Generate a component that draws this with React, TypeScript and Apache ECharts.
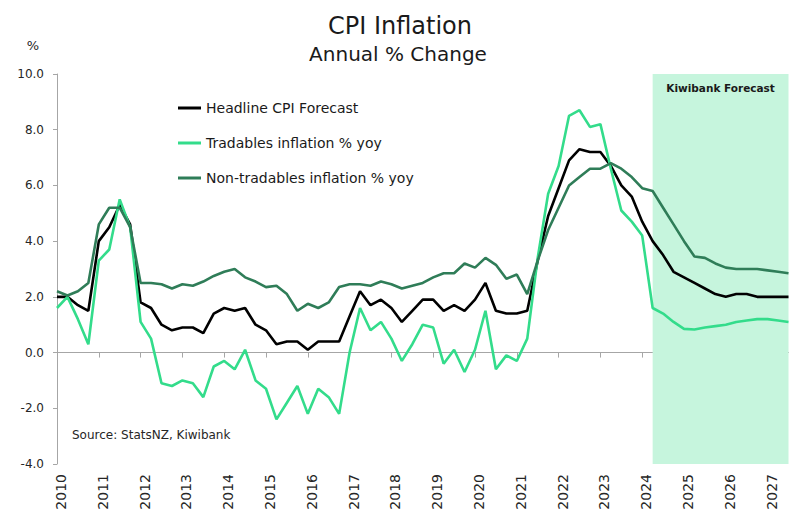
import React, { useEffect, useRef } from "react";
import * as echarts from "echarts";

// Quarterly categories, 2010 Q1 .. 2027 Q3 (71 points)
const startYear = 2010;
const quarters: string[] = [];
for (let i = 0; i < 71; i++) {
  quarters.push(`${startYear + Math.floor(i / 4)}Q${(i % 4) + 1}`);
}

const yearLabels = [
  "2010", "2011", "2012", "2013", "2014", "2015", "2016", "2017", "2018",
  "2019", "2020", "2021", "2022", "2023", "2024", "2025", "2026", "2027",
];

const headline = [
  2.0, 2.0, 1.7, 1.5, 4.0, 4.5, 5.3, 4.6, 1.8, 1.6, 1.0, 0.8, 0.9, 0.9, 0.7, 1.4,
  1.6, 1.5, 1.6, 1.0, 0.8, 0.3, 0.4, 0.4, 0.1, 0.4, 0.4, 0.4, 1.3, 2.2, 1.7, 1.9,
  1.6, 1.1, 1.5, 1.9, 1.9, 1.5, 1.7, 1.5, 1.9, 2.5, 1.5, 1.4, 1.4, 1.5, 3.3, 4.9,
  5.9, 6.9, 7.3, 7.2, 7.2, 6.7, 6.0, 5.6, 4.7, 4.0, 3.5, 2.9, 2.7, 2.5, 2.3, 2.1,
  2.0, 2.1, 2.1, 2.0, 2.0, 2.0, 2.0,
];

const tradables = [
  1.6, 2.0, 1.2, 0.3, 3.3, 3.7, 5.5, 4.5, 1.1, 0.5, -1.1, -1.2, -1.0, -1.1, -1.6, -0.5,
  -0.3, -0.6, 0.1, -1.0, -1.3, -2.4, -1.8, -1.2, -2.2, -1.3, -1.6, -2.2, 0.0, 1.6, 0.8, 1.1,
  0.5, -0.3, 0.3, 1.0, 0.9, -0.4, 0.1, -0.7, 0.1, 1.5, -0.6, -0.1, -0.3, 0.5, 3.4, 5.7,
  6.7, 8.5, 8.7, 8.1, 8.2, 6.6, 5.1, 4.7, 4.2, 1.6, 1.4, 1.1, 0.85, 0.83, 0.9, 0.95,
  1.0, 1.1, 1.15, 1.2, 1.2, 1.15, 1.1,
];

const nonTradables = [
  2.2, 2.05, 2.2, 2.5, 4.6, 5.2, 5.2, 4.5, 2.5, 2.5, 2.45, 2.3, 2.45, 2.4, 2.55, 2.75,
  2.9, 3.0, 2.7, 2.55, 2.35, 2.4, 2.1, 1.5, 1.75, 1.6, 1.8, 2.35, 2.45, 2.45, 2.4, 2.55,
  2.45, 2.3, 2.4, 2.5, 2.7, 2.85, 2.85, 3.2, 3.05, 3.4, 3.15, 2.65, 2.8, 2.1, 3.3, 4.4,
  5.2, 6.0, 6.3, 6.6, 6.6, 6.8, 6.6, 6.3, 5.9, 5.8, 5.2, 4.6, 4.0, 3.45, 3.4, 3.2,
  3.05, 3.0, 3.0, 3.0, 2.95, 2.9, 2.85,
];

const seriesNames = [
  "Headline CPI Forecast",
  "Tradables inflation % yoy",
  "Non-tradables inflation % yoy",
];
const colors = ["#000000", "#33DC8B", "#2F7D58"];
const forecastStart = "2024Q2";
const forecastEnd = "2027Q3";

const FONT = "DejaVu Sans";

export default function App() {
  const ref = useRef<HTMLDivElement>(null);

  useEffect(() => {
    if (!ref.current) return;
    const chart = echarts.init(ref.current, undefined, { renderer: "svg" });
    const mk = (name: string, data: number[], color: string, extra: any = {}) => ({
      name,
      type: "line",
      data,
      xAxisIndex: 0,
      yAxisIndex: 0,
      showSymbol: false,
      symbol: "none",
      color,
      lineStyle: { color, width: 2.6 },
      ...extra,
    });
    chart.setOption({
      animation: false,
      textStyle: { fontFamily: FONT },
      grid: { left: 57, right: 11.5, top: 74, bottom: 58, containLabel: false },
      legend: {
        orient: "vertical",
        left: 173,
        top: 93,
        itemWidth: 23,
        itemHeight: 3,
        itemGap: 15,
        icon: "rect",
        data: seriesNames,
        textStyle: { fontSize: 14, color: "#1a1a1a", lineHeight: 20, fontFamily: FONT },
      },
      xAxis: [
        {
          type: "category",
          data: quarters,
          boundaryGap: false,
          axisLine: { onZero: true, lineStyle: { color: "#A6A6A6", width: 1 } },
          axisTick: { show: true, interval: 3, length: 5, lineStyle: { color: "#A6A6A6" } },
          axisLabel: { show: false },
          splitLine: { show: false },
        },
        {
          type: "category",
          data: quarters,
          boundaryGap: false,
          position: "bottom",
          axisLine: { show: false, onZero: false },
          axisTick: { show: false },
          splitLine: { show: false },
          axisLabel: {
            show: true,
            interval: 3,
            rotate: 90,
            margin: 10,
            fontSize: 14,
            color: "#262626",
            fontFamily: FONT,
            verticalAlign: "top",
            lineHeight: 8,
            formatter: (_v: string, idx: number) =>
              idx % 4 === 0 ? yearLabels[idx / 4] ?? "" : "",
          },
        },
      ],
      yAxis: {
        type: "value",
        min: -4,
        max: 10,
        interval: 2,
        axisLine: { show: true, lineStyle: { color: "#A6A6A6", width: 1 } },
        axisTick: { show: true, inside: false, length: 4, lineStyle: { color: "#A6A6A6" } },
        splitLine: { show: false },
        axisLabel: {
          margin: 13,
          fontSize: 12,
          color: "#262626",
          fontFamily: FONT,
          formatter: (v: number) => v.toFixed(1),
        },
      },
      series: [
        mk(seriesNames[0], headline, colors[0], {
          markArea: {
            silent: true,
            itemStyle: { color: "#C6F5DD", opacity: 1 },
            label: {
              show: true,
              position: "insideTop",
              distance: 8,
              fontSize: 10.5,
              fontWeight: "bold",
              color: "#1a1a1a",
              fontFamily: FONT,
            },
            data: [
              [
                { name: "Kiwibank Forecast", xAxis: forecastStart, yAxis: 10 },
                { xAxis: forecastEnd, yAxis: -4 },
              ],
            ],
          },
        }),
        mk(seriesNames[1], tradables, colors[1]),
        mk(seriesNames[2], nonTradables, colors[2]),
      ],
      graphic: [
        {
          type: "text",
          x: 400,
          y: 26,
          style: {
            text: "CPI Inflation",
            fontSize: 24,
            fontFamily: FONT,
            fill: "#1a1a1a",
            textAlign: "center",
            textVerticalAlign: "middle",
          },
        },
        {
          type: "text",
          x: 398,
          y: 54,
          style: {
            text: "Annual % Change",
            fontSize: 20,
            fontFamily: FONT,
            fill: "#1a1a1a",
            textAlign: "center",
            textVerticalAlign: "middle",
          },
        },
        {
          type: "text",
          x: 33,
          y: 45,
          style: {
            text: "%",
            fontSize: 13,
            fontFamily: FONT,
            fill: "#262626",
            textAlign: "center",
            textVerticalAlign: "middle",
          },
        },
        {
          type: "text",
          x: 72,
          y: 435,
          style: {
            text: "Source: StatsNZ, Kiwibank",
            fontSize: 12,
            fontFamily: FONT,
            fill: "#262626",
            textAlign: "left",
            textVerticalAlign: "middle",
          },
        },
      ],
    });
    return () => chart.dispose();
  }, []);

  return <div ref={ref} style={{ width: 800, height: 522, position: "absolute", left: 0, top: 0 }} />;
}
